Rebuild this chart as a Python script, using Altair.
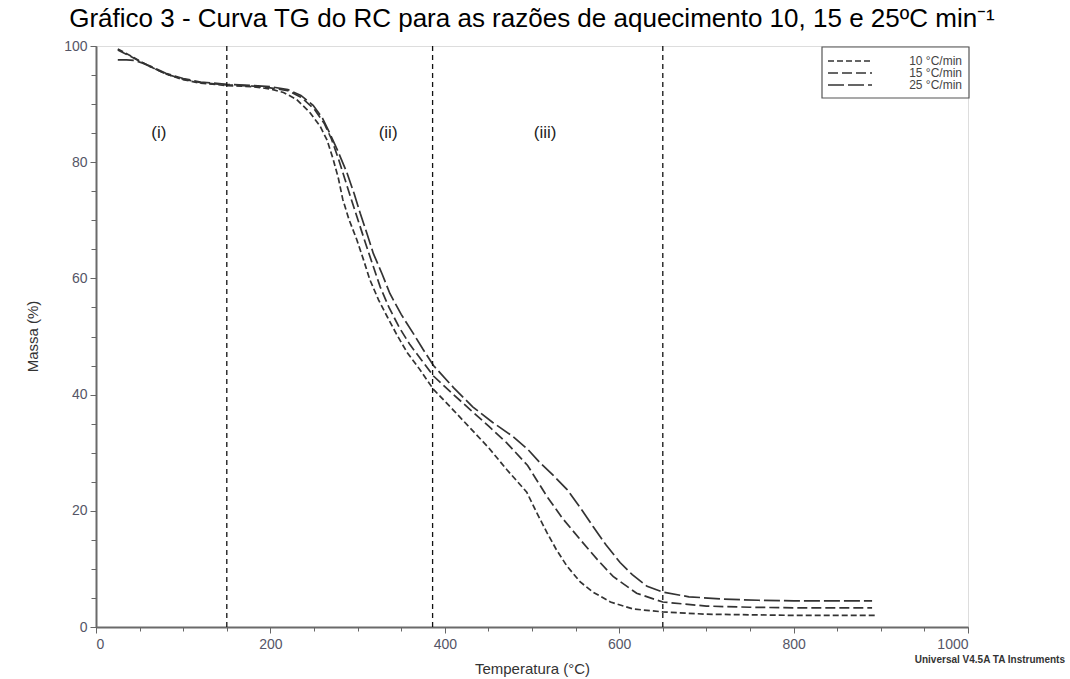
import altair as alt
import pandas as pd

# ---- data ----
rates = ["10 °C/min", "15 °C/min", "25 °C/min"]

T10 = [25, 40, 60, 80, 100, 120, 150, 180, 200, 215, 230, 245, 257, 265, 272, 278, 283, 290, 299, 307,
       314, 324, 334, 345, 357, 370, 387, 410, 430, 450, 471, 494, 505, 517, 528, 540, 555, 570, 590, 616,
       650, 700, 750, 800, 850, 893]
M10 = [99.5, 98.3, 96.6, 95.2, 94.2, 93.6, 93.2, 93.0, 92.6, 92.0, 90.8, 88.6, 86.2, 83.8, 80.5, 77.2, 73.6, 70.2, 66.7, 63.1,
       59.8, 56.3, 53.4, 50.3, 47.2, 44.6, 40.9, 37.3, 34.1, 30.9, 27.1, 23.2, 19.8, 16.3, 13.3, 10.5, 7.8, 6.0, 4.3, 3.1,
       2.6, 2.2, 2.1, 2.0, 2.0, 2.0]

T15 = [25, 40, 60, 80, 100, 120, 150, 180, 200, 220, 235, 250, 262, 270, 278, 285, 293, 301, 309, 317,
       326, 336, 348, 360, 373, 387, 410, 430, 450, 471, 495, 517, 535, 555, 575, 593, 620, 650, 700, 750,
       800, 850, 890]
M15 = [99.3, 98.2, 96.6, 95.2, 94.3, 93.7, 93.3, 93.1, 92.8, 92.3, 91.2, 89.2, 86.6, 84.0, 80.6, 77.3, 73.5, 69.8, 66.1, 62.5,
       58.5, 55.0, 51.5, 48.6, 46.0, 43.2, 40.0, 37.3, 34.6, 31.7, 27.8, 22.5, 18.7, 15.1, 11.6, 8.7, 5.8, 4.3, 3.6, 3.4,
       3.3, 3.3, 3.3]

T25 = [25, 35, 45, 60, 80, 100, 120, 150, 180, 200, 220, 235, 249, 260, 268, 278, 288, 296, 303, 311,
       318, 328, 337, 350, 364, 375, 387, 410, 432, 455, 478, 495, 509, 525, 540, 555, 570, 585, 601, 615,
       632, 650, 680, 720, 760, 800, 850, 890]
M25 = [97.6, 97.6, 97.5, 96.7, 95.3, 94.4, 93.8, 93.4, 93.2, 93.0, 92.5, 91.5, 89.8, 87.5, 85.0, 81.7, 78.1, 74.6, 71.2, 67.6,
       64.3, 60.8, 57.4, 53.8, 50.5, 47.8, 45.0, 41.2, 37.9, 35.2, 32.8, 30.6, 28.3, 26.0, 23.7, 20.6, 17.3, 14.1, 11.1, 9.0,
       7.0, 6.0, 5.2, 4.8, 4.6, 4.5, 4.5, 4.5]

region_bounds = [150, 386, 650]
region_names = ["(i)", "(ii)", "(iii)"]
region_T = [72, 335, 515]
region_M = [85, 85, 85]

x_major = [0, 200, 400, 600, 800, 1000]
x_minor = list(range(0, 1001, 50))
y_major = [0, 20, 40, 60, 80, 100]
y_minor = list(range(0, 101, 5))

# ---- tables ----
rows = []
for name, T, M in [(rates[0], T10, M10), (rates[1], T15, M15), (rates[2], T25, M25)]:
    for i, (t, m) in enumerate(zip(T, M)):
        rows.append({"rate": name, "T": t, "M": m, "i": i})
curves = pd.DataFrame(rows)
bounds = pd.DataFrame({"v": region_bounds})
labels = pd.DataFrame({"T": region_T, "M": region_M, "txt": region_names})
legend_df = pd.DataFrame({"rate": rates})

FONT = "Liberation Sans"
x_scale = alt.Scale(domain=[0, 1000], nice=False, zero=False)
y_scale = alt.Scale(domain=[0, 100], nice=False)
dash_scale = alt.Scale(domain=rates, range=[[6, 3], [10, 4], [16, 4]])
# legend rows placed inside the top-right corner of the frame
legend_row = alt.Scale(type="point", domain=rates, range=[15, 39], padding=0)

lines = alt.Chart(curves).mark_line(color="#333333", strokeWidth=1.7, clip=True).encode(
    x=alt.X("T:Q", scale=x_scale,
            axis=alt.Axis(orient="bottom", values=x_major, format="d", title="Temperatura (°C)",
                          titleY=41, titleBaseline="middle", titleFontSize=15,
                          titleFontWeight="normal", titleColor="#333333",
                          labelFontSize=14, labelColor="#555566", labelPadding=4,
                          tickSize=6, tickColor="#666666", domainColor="#6a6a6a",
                          domainWidth=2, grid=False)),
    y=alt.Y("M:Q", scale=y_scale,
            axis=alt.Axis(orient="left", values=y_major, title="Massa (%)",
                          titleX=-64, titleY=290, titleAngle=-90, titleAlign="center",
                          titleBaseline="middle", titleFontSize=15, titleFontWeight="normal",
                          titleColor="#333333",
                          labelFontSize=14, labelColor="#555566", labelPadding=3,
                          tickSize=6, tickColor="#666666", domainColor="#6a6a6a",
                          domainWidth=2, grid=False)),
    strokeDash=alt.StrokeDash("rate:N", scale=dash_scale, legend=None),
    order="i:Q",
)

vlines = alt.Chart(bounds).mark_rule(color="#111111", strokeWidth=1.3, strokeDash=[5, 4]).encode(
    x=alt.X("v:Q", scale=x_scale,
            axis=alt.Axis(orient="bottom", values=x_minor, labels=False, domain=False,
                          title=None, tickSize=4, tickColor="#666666", grid=False)),
)

texts = alt.Chart(labels).mark_text(fontSize=17, font=FONT, color="#222222").encode(
    x=alt.X("T:Q", scale=x_scale, axis=None),
    y=alt.Y("M:Q", scale=y_scale,
            axis=alt.Axis(orient="left", values=y_minor, labels=False, domain=False,
                          title=None, tickSize=5, tickColor="#666666", grid=False)),
    text="txt:N",
)

# legend (box, dash samples, labels)
leg_box = alt.Chart(pd.DataFrame({"k": [0]})).mark_rect(
    fill="white", stroke="#555555", strokeWidth=1.2
).encode(x=alt.value(726), x2=alt.value(873), y=alt.value(1), y2=alt.value(52))

leg_sym = alt.Chart(legend_df).mark_rule(color="#333333", strokeWidth=1.6).encode(
    x=alt.value(732), x2=alt.value(776),
    y=alt.Y("rate:N", scale=legend_row, axis=None),
    strokeDash=alt.StrokeDash("rate:N", scale=dash_scale, legend=None),
)

leg_txt = alt.Chart(legend_df).mark_text(
    align="right", baseline="middle", fontSize=12, font=FONT, color="#444444"
).encode(
    x=alt.value(866),
    y=alt.Y("rate:N", scale=legend_row, axis=None),
    text="rate:N",
)

credit = alt.Chart(pd.DataFrame({"t": ["Universal V4.5A TA Instruments"]})).mark_text(
    align="right", baseline="middle", fontSize=10, fontWeight="bold", font=FONT, color="#333333"
).encode(x=alt.value(969), y=alt.value(614), text="t:N")

chart = alt.layer(lines, vlines, texts, leg_box, leg_sym, leg_txt, credit).resolve_axis(
    x="independent", y="independent"
).resolve_scale(y="independent").properties(
    width=872, height=581,
    padding={"left": 96, "top": 46, "right": 102, "bottom": 52},
    autosize=alt.AutoSizeParams(type="none"),
    title=alt.TitleParams(
        "Gráfico 3 - Curva TG do RC para as razões de aquecimento 10, 15 e 25ºC min⁻¹",
        fontSize=26, font=FONT, fontWeight="normal", color="#000000",
        anchor="middle", frame="group", offset=16, baseline="alphabetic", dy=30),
).configure_view(stroke="#7a7a7a", strokeWidth=1.5).configure(font=FONT, background="white")

chart.save("out.html", embed_options={"renderer": "svg", "actions": False})
